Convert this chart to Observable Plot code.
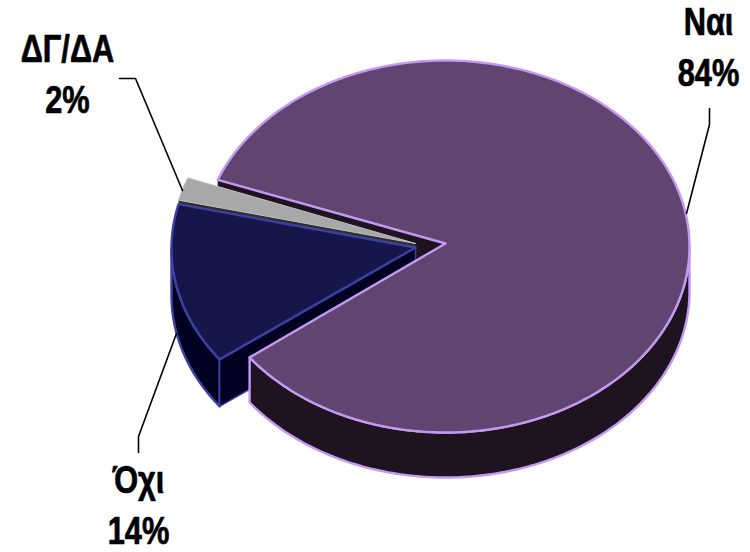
<!DOCTYPE html>
<html><head><meta charset="utf-8">
<style>html,body{margin:0;padding:0;background:#fff}svg{display:block}</style>
<script src="https://cdn.jsdelivr.net/npm/d3@7"></script>
<script src="https://cdn.jsdelivr.net/npm/@observablehq/plot@0.6"></script>
</head><body><div id="c"></div>
<script>
const categories = ["Ναι","Όχι","ΔΓ/ΔΑ"];
const values = [84,14,2];
const startAngle = 291;
const rx = 244, ry = 186, depth = 45;
const fills = ["#604570","#15174a","#a8a8a8"];
const walls = ["#1d1420","#000020","#2e2e2e"];
const strokes = ["#c598f2","#3c40a2","#c0c0c0"];
const centers = [[445,246],[415,248],[415,244]];
const apexes = [[445,243],[415,247],[415,243]];
const leaders = [
  [[709,108],[709,124],[686,213]],
  [[138,452],[138,436],[176,333]],
  [[119,78],[135,78],[182,190]]
];
const labelPos = [[708,44,"Ναι"],[138,502,"Όχι"],[67,71,"ΔΓ/ΔΑ"]];

// slice angles from values (clockwise from the top of the ellipse)
let cursor = startAngle;
const slices = values.map((v,i)=>{const s=cursor; cursor+=v/100*360; return {i,s,e:cursor};});
const rad = d=>d*Math.PI/180;
const pt = (i,d,dy=0)=>[centers[i][0]+rx*Math.sin(rad(d)), centers[i][1]-ry*Math.cos(rad(d))+dy];
const arc = (i,s,e,dy=0)=>{const n=Math.max(2,Math.ceil(Math.abs(e-s)));return d3.range(n+1).map(k=>pt(i,s+(e-s)*k/n,dy));};
const drop = (p,dy)=>[p[0],p[1]+dy];
const poly = (points,fill,stroke,strokeWidth=2.4)=>Plot.line(points,{x:d=>d[0],y:d=>d[1],fill,stroke,strokeWidth,strokeLinejoin:"round",curve:"linear"});
const closed = p=>[...p,p[0]];

const [sMain,sNo,sDk] = slices; // Ναι, Όχι, ΔΓ/ΔΑ
const topFace = s=>closed([apexes[s.i],...arc(s.i,s.s,s.e)]);

const marks = [];
// Ναι: cut wall behind the other slices
marks.push(poly(closed([apexes[0],pt(0,sMain.s),pt(0,sMain.s,depth),drop(apexes[0],depth)]),walls[0],"none"));
// ΔΓ/ΔΑ
marks.push(poly(closed([apexes[2],pt(2,sDk.s),pt(2,sDk.s,5),drop(apexes[2],5)]),walls[2],"none"));
marks.push(poly(topFace(sDk),fills[2],strokes[2],1));
// Όχι: outer wall, cut wall, top
marks.push(poly(closed([...arc(1,sNo.s-360,270),...arc(1,270,sNo.s-360,47)]),walls[1],strokes[1]));
marks.push(poly(closed([apexes[1],pt(1,sNo.s),pt(1,sNo.s,47),drop(apexes[1],47)]),walls[1],strokes[1],1.5));
marks.push(poly(topFace(sNo),fills[1],strokes[1]));
// Ναι: outer wall and top
marks.push(poly(closed([...arc(0,90,sMain.e-360),...arc(0,sMain.e-360,90,depth)]),walls[0],strokes[0]));
marks.push(poly(topFace(sMain),fills[0],strokes[0]));
// leader lines
leaders.forEach(l=>marks.push(Plot.line(l,{x:d=>d[0],y:d=>d[1],stroke:"#000",strokeWidth:1.6,curve:"linear"})));
// labels
marks.push(Plot.text(labelPos,{
  x:d=>d[0],y:d=>d[1],
  text:d=>`${d[2]}\n${values[categories.indexOf(d[2])]}%`,
  fontFamily:"'Liberation Sans',Arial,sans-serif",
  fontWeight:"bold",fontSize:38,lineHeight:1.32,fill:"#000",stroke:"#000",strokeWidth:0.7,textAnchor:"middle",lineAnchor:"middle"
}));

const chart = Plot.plot({
  width:750,height:552,margin:0,
  x:{domain:[0,750],range:[0,750],axis:null},
  y:{domain:[0,552],range:[0,552],axis:null},
  style:{background:"#fff"},
  marks
});
// the reference's labels are set in a condensed cut
d3.select(chart).selectAll("text").attr("transform",function(){return (this.getAttribute("transform")||"")+" scale(0.81,1)";});
document.getElementById("c").append(chart);
</script></body></html>
